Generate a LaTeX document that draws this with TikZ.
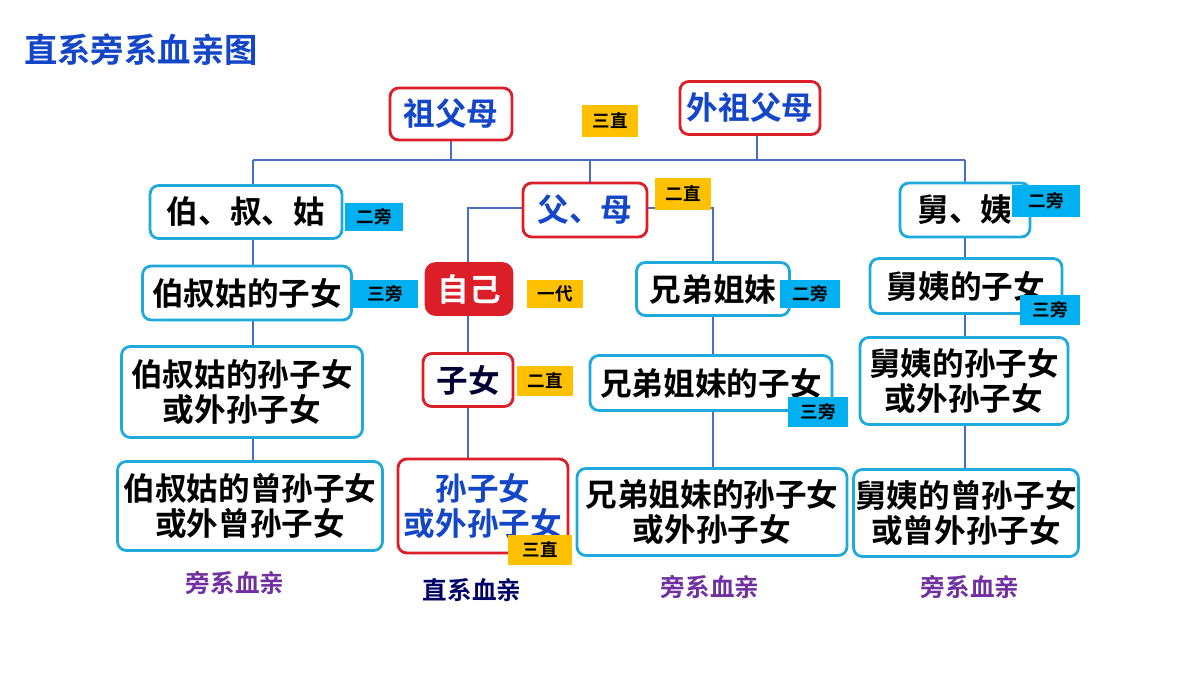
\documentclass[tikz,border=0pt]{standalone}
\usepackage{fontspec}
\setmainfont{Noto Sans CJK SC}[BoldFont={Noto Sans CJK SC Bold}]
\usepackage{tikz}
\definecolor{boxblue}{RGB}{30,170,220}
\definecolor{tagorange}{RGB}{255,192,0}
\definecolor{tagblue}{RGB}{0,176,240}
\definecolor{linkblue}{RGB}{70,110,200}
\definecolor{textblue}{RGB}{20,70,200}
\definecolor{kinred}{RGB}{220,30,40}
\definecolor{kinpurple}{RGB}{112,48,160}
\tikzset{
  side/.style={draw=boxblue,line width=1.6pt,rounded corners=5pt,fill=white,font=\bfseries\fontsize{18}{20}\selectfont,align=center,inner sep=1pt},
  direct/.style={side,draw=kinred,text=textblue},
  tag/.style={fill=tagorange,font=\bfseries\fontsize{10}{12}\selectfont,inner sep=0pt},
  otag/.style={tag,fill=tagblue},
  link/.style={draw=linkblue,line width=1.4pt},
  kin/.style={text=kinpurple,font=\bfseries\fontsize{14}{16}\selectfont},
}
\begin{document}
\begin{tikzpicture}[x=0.02cm,y=-0.02cm]
	\useasboundingbox (0,0) rectangle (1200,675);
	%TITLE
	\node[anchor=west,text=textblue,font=\bfseries\fontsize{19}{21}\selectfont] (title) at (18,50) {直系旁系血亲图};

	%LINKS
	\coordinate (lt) at (253,160);
	\coordinate (rt) at (965,160);
	\coordinate (gm) at (451,160);
	\coordinate (wm) at (757,160);
	\coordinate (pm) at (590,160);
	\coordinate (pl) at (468,208);
	\coordinate (pr) at (713,208);
	\draw[link] (lt)--(rt);
	\draw[link] (gm)--(451,140);
	\draw[link] (wm)--(757,135);
	\draw[link] (lt)--(253,520);
	\draw[link] (pm)--(590,190);
	\draw[link] (rt)--(965,520);
	\draw[link] (600,208)--(pl)--(468,500);
	\draw[link] (600,208)--(pr)--(713,500);

	%ANCESTORS
	\node[direct,minimum width=2.44cm,minimum height=1.04cm] (zfm) at (451,114) {祖父母};
	\node[direct,minimum width=2.8cm,minimum height=1.06cm] (wzfm) at (750,108) {外祖父母};
	\node[tag,minimum width=1.12cm,minimum height=0.64cm] (t3a) at (610,121) {三直};

	%SECOND ROW
	\node[side,minimum width=3.84cm,minimum height=1.06cm] (bsg) at (246,212) {伯、叔、姑};
	\node[otag,minimum width=1.16cm,minimum height=0.58cm] (t2a) at (374,217) {二旁};
	\node[direct,minimum width=2.48cm,minimum height=1.08cm] (fm) at (585,210) {父、母};
	\node[tag,minimum width=1.12cm,minimum height=0.64cm] (t2b) at (683,194) {二直};
	\node[side,minimum width=2.6cm,minimum height=1.08cm] (jy) at (965,210) {舅、姨};
	\node[otag,minimum width=1.36cm,minimum height=0.64cm] (t2c) at (1046,201) {二旁};

	%THIRD ROW
	\node[side,minimum width=4.18cm,minimum height=1.08cm] (bsgz) at (247,293) {伯叔姑的子女};
	\node[otag,minimum width=1.32cm,minimum height=0.56cm] (t3b) at (385,294) {三旁};
	\node[draw=kinred,fill=kinred,rounded corners=6pt,text=white,font=\bfseries\fontsize{18}{20}\selectfont,minimum width=1.76cm,minimum height=1.06cm] (me) at (469,289) {自己};
	\node[tag,minimum width=1.12cm,minimum height=0.56cm] (t1) at (555,294) {一代};
	\node[side,minimum width=3.06cm,minimum height=1.06cm] (xd) at (713,289) {兄弟姐妹};
	\node[otag,minimum width=1.2cm,minimum height=0.58cm] (t2d) at (810,294) {二旁};
	\node[side,minimum width=3.84cm,minimum height=1.1cm] (jyz) at (966,286) {舅姨的子女};
	\node[otag,minimum width=1.2cm,minimum height=0.6cm] (t3c) at (1050,310) {三旁};

	%FOURTH ROW
	\node[side,minimum width=4.82cm,minimum height=1.82cm] (bsgs) at (242,392) {伯叔姑的孙子女\\或外孙子女};
	\node[direct,text=black!80!blue,minimum width=1.8cm,minimum height=1.06cm] (zn) at (468,380) {子女};
	\node[tag,minimum width=1.12cm,minimum height=0.6cm] (t2e) at (545,381) {二直};
	\node[side,minimum width=4.84cm,minimum height=1.1cm] (xdz) at (711,383) {兄弟姐妹的子女};
	\node[otag,minimum width=1.2cm,minimum height=0.6cm] (t3d) at (818,412) {三旁};
	\node[side,minimum width=4.16cm,minimum height=1.74cm] (jys) at (964,381) {舅姨的孙子女\\或外孙子女};

	%FIFTH ROW
	\node[side,minimum width=5.3cm,minimum height=1.78cm] (bsgc) at (250,506) {伯叔姑的曾孙子女\\或外曾孙子女};
	\node[direct,minimum width=3.4cm,minimum height=1.88cm] (szn) at (483,506) {孙子女\\或外孙子女};
	\node[tag,minimum width=1.28cm,minimum height=0.6cm] (t3e) at (540,550) {三直};
	\node[side,minimum width=5.4cm,minimum height=1.74cm] (xds) at (712,512) {兄弟姐妹的孙子女\\或外孙子女};
	\node[side,minimum width=4.36cm,minimum height=1.74cm] (jyc) at (966,513) {舅姨的曾孙子女\\或曾外孙子女};

	%LABELS
	\node[kin] (l1) at (235,583) {旁系血亲};
	\node[kin,text=black!60!blue] (l2) at (472,590) {直系血亲};
	\node[kin] (l3) at (710,587) {旁系血亲};
	\node[kin] (l4) at (970,587) {旁系血亲};
\end{tikzpicture}
\end{document}
